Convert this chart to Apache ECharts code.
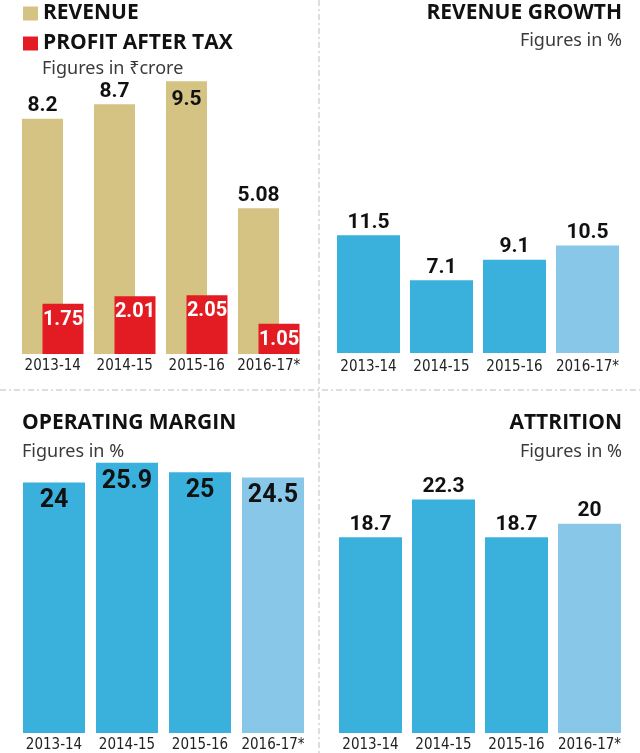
<!DOCTYPE html>
<html>
<head>
<meta charset="utf-8">
<script src="https://cdn.jsdelivr.net/npm/echarts@6.0.0/dist/echarts.min.js"></script>
<style>
    html, body { margin: 0; padding: 0; background: #fff; }
    #main { width: 640px; height: 753px; }
</style>
</head>
<body>
<div id="main"></div>
<script>
// 数据
var years = ['2013-14', '2014-15', '2015-16', '2016-17*'];
var revenue = [8.2, 8.7, 9.5, 5.08];
var profit = [1.75, 2.01, 2.05, 1.05];
var revenueGrowth = [11.5, 7.1, 9.1, 10.5];
var operatingMargin = [24, 25.9, 25, 24.5];
var attrition = [18.7, 22.3, 18.7, 20];

(function () {
    var myChart = echarts.init(document.getElementById('main'));

    var headFont = "'Open Sans', 'Noto Sans', sans-serif";
    var subFont = "'Noto Sans', 'Open Sans', sans-serif";
    var numFont = "Roboto, 'Noto Sans', sans-serif";
    var axisFont = "'Liberation Sans Narrow', 'DejaVu Sans Condensed', 'Noto Sans', sans-serif";

    var tan = '#d4c382';
    var red = '#e31c24';
    var blue = '#3ab1dc';
    var lightBlue = '#88c7e8';

    // 最后一年是估计值，颜色浅一点
    function blueColor(p) {
        return p.dataIndex === years.length - 1 ? lightBlue : blue;
    }

    function xAxisOf(idx, margin) {
        return {
            type: 'category',
            gridIndex: idx,
            data: years,
            axisLine: { show: false },
            axisTick: { show: false },
            axisLabel: {
                interval: 0,
                color: '#222',
                fontSize: 15,
                fontFamily: axisFont,
                margin: margin
            }
        };
    }

    function yAxisOf(idx, max) {
        return { type: 'value', gridIndex: idx, min: 0, max: max, show: false };
    }

    // 标题 / 副标题 (每个单独一个 title 组件, 方便右对齐)
    function head(text, pos) {
        return Object.assign({
            text: text, padding: 0,
            textStyle: { color: '#111', fontSize: 21, fontWeight: 'bold', fontFamily: headFont, lineHeight: 24 }
        }, pos);
    }
    function sub(text, pos) {
        return Object.assign({
            text: text, padding: 0,
            textStyle: { color: '#3a3a3a', fontSize: 18, fontWeight: 'normal', fontFamily: subFont, lineHeight: 22 }
        }, pos);
    }

    var numLabel = {
        show: true,
        position: 'top',
        distance: 2,
        color: '#111',
        fontSize: 21,
        fontWeight: 'bold',
        fontFamily: numFont
    };

    var revMax = Math.max.apply(null, revenue);

    var option = {
        animation: false,
        backgroundColor: '#fff',
        legend: {
            orient: 'vertical',
            left: 23,
            top: 3,
            padding: 0,
            itemWidth: 15,
            itemHeight: 14,
            itemGap: 9,
            icon: 'rect',
            selectedMode: false,
            textStyle: {
                color: '#111',
                fontSize: 21,
                lineHeight: 20,
                fontWeight: 'bold',
                fontFamily: headFont
            },
            data: ['REVENUE', 'PROFIT AFTER TAX']
        },
        title: [
            sub('Figures in ₹crore', { left: 42, top: 58 }),
            head('REVENUE GROWTH', { right: 18, top: 1 }),
            sub('Figures in %', { right: 18, top: 30 }),
            head('OPERATING MARGIN', { left: 22, top: 411 }),
            sub('Figures in %', { left: 22, top: 441 }),
            head('ATTRITION', { right: 18, top: 411 }),
            sub('Figures in %', { right: 18, top: 441 })
        ],
        // 四个面板的分隔虚线
        graphic: [
            {
                type: 'line', silent: true,
                shape: { x1: 319, y1: 0, x2: 319, y2: 753 },
                style: { stroke: '#bdbdbd', lineWidth: 1, lineDash: [6, 3, 2, 3] }
            },
            {
                type: 'line', silent: true,
                shape: { x1: 0, y1: 390, x2: 640, y2: 390 },
                style: { stroke: '#bdbdbd', lineWidth: 1, lineDash: [6, 3, 2, 3] }
            }
        ],
        grid: [
            { left: 16.75, right: 335.25, top: 67, bottom: 399 },
            { left: 332, right: 16, top: 230, bottom: 400 },
            { left: 17.5, right: 330.5, top: 420, bottom: 20 },
            { left: 334, right: 14, top: 419, bottom: 20 }
        ],
        xAxis: [xAxisOf(0, 5), xAxisOf(1, 7), xAxisOf(2, 5), xAxisOf(3, 5)],
        yAxis: [yAxisOf(0, 10), yAxisOf(1, 12), yAxisOf(2, 30), yAxisOf(3, 30)],
        series: [
            {
                name: 'REVENUE',
                type: 'bar',
                xAxisIndex: 0, yAxisIndex: 0,
                barWidth: 41,
                barGap: '-50%',
                itemStyle: { color: tan },
                label: numLabel,
                // 最高的柱子标签放在柱内
                data: revenue.map(function (v) {
                    return v === revMax ? { value: v, label: { position: 'insideTop', distance: 8 } } : v;
                })
            },
            {
                name: 'PROFIT AFTER TAX',
                type: 'bar',
                xAxisIndex: 0, yAxisIndex: 0,
                barWidth: 41,
                barGap: '-50%',
                itemStyle: { color: red },
                label: {
                    show: true, position: 'insideTop', distance: 6,
                    color: '#fff', fontSize: 20, fontWeight: 'bold', fontFamily: numFont
                },
                data: profit
            },
            {
                name: 'Revenue growth',
                type: 'bar',
                xAxisIndex: 1, yAxisIndex: 1,
                barWidth: 63,
                itemStyle: { color: blueColor },
                label: numLabel,
                data: revenueGrowth
            },
            {
                name: 'Operating margin',
                type: 'bar',
                xAxisIndex: 2, yAxisIndex: 2,
                barWidth: 62,
                itemStyle: { color: blueColor },
                label: {
                    show: true, position: 'insideTop', distance: 6,
                    color: '#111', fontSize: 25, fontWeight: 'bold', fontFamily: numFont
                },
                data: operatingMargin
            },
            {
                name: 'Attrition',
                type: 'bar',
                xAxisIndex: 3, yAxisIndex: 3,
                barWidth: 63,
                itemStyle: { color: blueColor },
                label: numLabel,
                data: attrition
            }
        ]
    };

    myChart.setOption(option);
    window.addEventListener('resize', function () {
        myChart.resize();
    });
})();
</script>
</body>
</html>
